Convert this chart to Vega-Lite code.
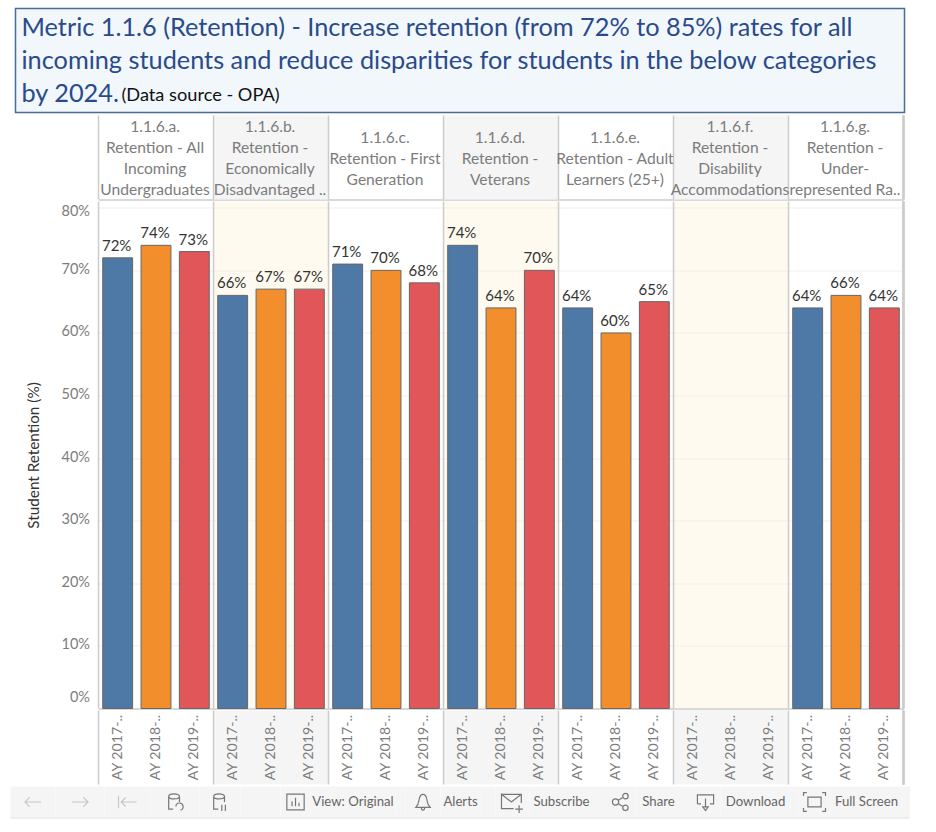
{"$schema":"https://vega.github.io/schema/vega-lite/v6.json","padding":{"left":10.5,"top":7.5,"right":0,"bottom":0},"background":"white","config":{"view":{"stroke":null},"font":"Lato","text":{"font":"Lato"},"point":{"opacity":1}},"datasets":{"bars":[{"group":"a","year":"2017","key":"a 2017","value":0.72,"axisLabel":"AY 2017-.."},{"group":"a","year":"2018","key":"a 2018","value":0.74,"axisLabel":"AY 2018-.."},{"group":"a","year":"2019","key":"a 2019","value":0.73,"axisLabel":"AY 2019-.."},{"group":"b","year":"2017","key":"b 2017","value":0.66,"axisLabel":"AY 2017-.."},{"group":"b","year":"2018","key":"b 2018","value":0.67,"axisLabel":"AY 2018-.."},{"group":"b","year":"2019","key":"b 2019","value":0.67,"axisLabel":"AY 2019-.."},{"group":"c","year":"2017","key":"c 2017","value":0.71,"axisLabel":"AY 2017-.."},{"group":"c","year":"2018","key":"c 2018","value":0.70,"axisLabel":"AY 2018-.."},{"group":"c","year":"2019","key":"c 2019","value":0.68,"axisLabel":"AY 2019-.."},{"group":"d","year":"2017","key":"d 2017","value":0.74,"axisLabel":"AY 2017-.."},{"group":"d","year":"2018","key":"d 2018","value":0.64,"axisLabel":"AY 2018-.."},{"group":"d","year":"2019","key":"d 2019","value":0.70,"axisLabel":"AY 2019-.."},{"group":"e","year":"2017","key":"e 2017","value":0.64,"axisLabel":"AY 2017-.."},{"group":"e","year":"2018","key":"e 2018","value":0.60,"axisLabel":"AY 2018-.."},{"group":"e","year":"2019","key":"e 2019","value":0.65,"axisLabel":"AY 2019-.."},{"group":"f","year":"2017","key":"f 2017","value":null,"axisLabel":"AY 2017-.."},{"group":"f","year":"2018","key":"f 2018","value":null,"axisLabel":"AY 2018-.."},{"group":"f","year":"2019","key":"f 2019","value":null,"axisLabel":"AY 2019-.."},{"group":"g","year":"2017","key":"g 2017","value":0.64,"axisLabel":"AY 2017-.."},{"group":"g","year":"2018","key":"g 2018","value":0.66,"axisLabel":"AY 2018-.."},{"group":"g","year":"2019","key":"g 2019","value":0.64,"axisLabel":"AY 2019-.."}],"panels":[{"first":"a 2017","mid":"a 2018","shade":false,"lines":4,"label":"1.1.6.a.\nRetention - All\nIncoming\nUndergraduates"},{"first":"b 2017","mid":"b 2018","shade":true,"lines":4,"label":"1.1.6.b.\nRetention -\nEconomically\nDisadvantaged .."},{"first":"c 2017","mid":"c 2018","shade":false,"lines":3,"label":"1.1.6.c.\nRetention - First\nGeneration"},{"first":"d 2017","mid":"d 2018","shade":true,"lines":3,"label":"1.1.6.d.\nRetention -\nVeterans"},{"first":"e 2017","mid":"e 2018","shade":false,"lines":3,"label":"1.1.6.e.\nRetention - Adult\nLearners (25+)"},{"first":"f 2017","mid":"f 2018","shade":true,"lines":4,"label":"1.1.6.f.\nRetention -\nDisability\nAccommodations"},{"first":"g 2017","mid":"g 2018","shade":false,"lines":4,"label":"1.1.6.g.\nRetention -\nUnder-\nrepresented Ra.."}]},"vconcat":[{"spacing":0,"bounds":"flush","data":{"values":[{}]},"hconcat":[{"width":4.5,"height":1,"mark":{"type":"rect","fill":"transparent"},"encoding":{}},{"width":889,"height":104,"title":{"text":["Metric 1.1.6 (Retention) - Increase retention (from 72% to 85%) rates for all","incoming students and reduce disparities for students in the below categories","by 2024."],"frame":"group","anchor":"start","orient":"top","offset":-100,"dx":6,"fontSize":25.3,"fontWeight":"normal","font":"Lato","color":"#2a4a8c","lineHeight":33},"layer":[{"mark":{"type":"rect","fill":"#f1f7fb","stroke":"#4a6a9e","strokeWidth":1.5},"encoding":{}},{"mark":{"type":"text","text":"(Data source - OPA)","align":"left","fontSize":18.2,"color":"#111111"},"encoding":{"x":{"datum":0.1192,"type":"quantitative","scale":{"domain":[0,1]},"axis":null},"y":{"datum":0.841,"type":"quantitative","scale":{"domain":[0,1],"reverse":true},"axis":null}}}]}]},{"spacing":0,"bounds":"flush","hconcat":[{"width":88,"height":1,"data":{"values":[{}]},"mark":{"type":"rect","fill":"transparent"},"encoding":{}},{"spacing":0,"vconcat":[{"width":805,"height":84,"layer":[{"data":{"name":"panels"},"transform":[{"filter":"datum.shade"}],"mark":{"type":"bar","fill":"#f5f5f5","width":{"band":3.846}},"encoding":{"x":{"field":"mid","type":"nominal","title":null,"axis":{"labels":false,"ticks":false,"title":null,"grid":false,"domainColor":"#cccccc","domainWidth":1.5},"scale":{"paddingInner":0.22,"paddingOuter":0.11,"domain":["a 2017","a 2018","a 2019","b 2017","b 2018","b 2019","c 2017","c 2018","c 2019","d 2017","d 2018","d 2019","e 2017","e 2018","e 2019","f 2017","f 2018","f 2019","g 2017","g 2018","g 2019"]}}}},{"data":{"name":"panels"},"mark":{"type":"rule","color":"#cccccc","strokeWidth":1.5,"xOffset":-4.2},"encoding":{"x":{"field":"first","type":"nominal","bandPosition":0}}},{"data":{"name":"panels"},"mark":{"type":"rule","color":"#cccccc","strokeWidth":1.5,"xOffset":4.2},"encoding":{"x":{"datum":"g 2019","type":"nominal","bandPosition":1}}},{"data":{"name":"panels"},"mark":{"type":"text","lineBreak":"\n","lineHeight":21,"fontSize":15.6,"color":"#7c7c7c","dx":-1},"encoding":{"x":{"field":"mid","type":"nominal"},"y":{"field":"lines","type":"ordinal","axis":null,"scale":{"domain":[3,4],"range":[22,11],"padding":0}},"text":{"field":"label"}}}]},{"width":805,"height":507,"layer":[{"data":{"name":"panels"},"transform":[{"filter":"datum.shade"}],"mark":{"type":"bar","fill":"#fdf1d0","opacity":0.35,"width":{"band":3.846}},"encoding":{"x":{"field":"mid","type":"nominal","title":null,"axis":{"labels":false,"ticks":false,"title":null,"grid":false,"domainColor":"#cccccc","domainWidth":1.5},"scale":{"paddingInner":0.22,"paddingOuter":0.11,"domain":["a 2017","a 2018","a 2019","b 2017","b 2018","b 2019","c 2017","c 2018","c 2019","d 2017","d 2018","d 2019","e 2017","e 2018","e 2019","f 2017","f 2018","f 2019","g 2017","g 2018","g 2019"]}}}},{"data":{"name":"panels"},"mark":{"type":"rule","color":"#cccccc","strokeWidth":1.5,"xOffset":-4.2},"encoding":{"x":{"field":"first","type":"nominal","bandPosition":0}}},{"data":{"name":"panels"},"mark":{"type":"rule","color":"#cccccc","strokeWidth":1.5,"xOffset":4.2},"encoding":{"x":{"datum":"g 2019","type":"nominal","bandPosition":1}}},{"data":{"name":"bars"},"transform":[{"filter":"datum.value != null"}],"mark":{"type":"bar","stroke":"#666666","strokeWidth":1},"encoding":{"x":{"field":"key","type":"nominal"},"y":{"field":"value","type":"quantitative","scale":{"domain":[0,0.81],"nice":false},"axis":{"title":"Student Retention (%)","values":[0,0.1,0.2,0.3,0.4,0.5,0.6,0.7,0.8],"format":".0%","labelOffset":{"expr":"datum.value==0?-11:datum.value==0.8?4:-1"},"labelPadding":9,"ticks":false,"domain":false,"gridColor":"#f0f0f0","labelColor":"#7c7c7c","labelFontSize":14.5,"minExtent":84,"titleX":-57,"titleFontSize":15.3,"titleFontWeight":"normal","titleColor":"#333333"}},"color":{"field":"year","type":"nominal","legend":null,"scale":{"domain":["2017","2018","2019"],"range":["#4e79a7","#f28e2b","#e15759"]}}}},{"data":{"name":"bars"},"transform":[{"filter":"datum.value != null"}],"mark":{"type":"text","baseline":"bottom","dy":-4,"dx":-1,"fontSize":15,"color":"#333333"},"encoding":{"x":{"field":"key","type":"nominal"},"y":{"field":"value","type":"quantitative"},"text":{"field":"value","type":"quantitative","format":".0%"}}}]},{"width":805,"height":74,"layer":[{"data":{"name":"panels"},"transform":[{"filter":"datum.shade"}],"mark":{"type":"bar","fill":"#f5f5f5","width":{"band":3.846}},"encoding":{"x":{"field":"mid","type":"nominal","title":null,"axis":null,"scale":{"paddingInner":0.22,"paddingOuter":0.11,"domain":["a 2017","a 2018","a 2019","b 2017","b 2018","b 2019","c 2017","c 2018","c 2019","d 2017","d 2018","d 2019","e 2017","e 2018","e 2019","f 2017","f 2018","f 2019","g 2017","g 2018","g 2019"]}}}},{"data":{"name":"panels"},"mark":{"type":"rule","color":"#cccccc","strokeWidth":1.5,"xOffset":-4.2},"encoding":{"x":{"field":"first","type":"nominal","bandPosition":0}}},{"data":{"name":"panels"},"mark":{"type":"rule","color":"#cccccc","strokeWidth":1.5,"xOffset":4.2},"encoding":{"x":{"datum":"g 2019","type":"nominal","bandPosition":1}}},{"data":{"name":"bars"},"mark":{"type":"text","angle":270,"fontSize":14.2,"color":"#7c7c7c"},"encoding":{"x":{"field":"key","type":"nominal"},"text":{"field":"axisLabel"}}}]}]}]},{"spacing":0,"data":{"values":[{}]},"vconcat":[{"spacing":0,"bounds":"flush","hconcat":[{"width":45,"height":31,"view":{"fill":"#f5f5f5"},"mark":{"type":"point","filled":false,"stroke":"#c8c8c8","strokeWidth":1.2,"size":256,"shape":"M1,0 L-1,0 M-0.4,-0.6 L-1,0 L-0.4,0.6"},"encoding":{}},{"width":49,"height":31,"view":{"fill":"#f5f5f5"},"mark":{"type":"point","filled":false,"stroke":"#c8c8c8","strokeWidth":1.2,"size":256,"shape":"M-1,0 L1,0 M0.4,-0.6 L1,0 L0.4,0.6"},"encoding":{}},{"width":46,"height":31,"view":{"fill":"#f5f5f5"},"mark":{"type":"point","filled":false,"stroke":"#c8c8c8","strokeWidth":1.2,"size":324,"shape":"M-1,-0.7 L-1,0.7 M1,0 L-0.7,0 M-0.2,-0.5 L-0.7,0 L-0.2,0.5"},"encoding":{}},{"width":49,"height":31,"view":{"fill":"#f5f5f5"},"mark":{"type":"point","filled":false,"stroke":"#777777","strokeWidth":1.2,"size":324,"shape":"M-0.7,-0.6 C-0.7,-1 0.5,-1 0.5,-0.6 C0.5,-0.25 -0.7,-0.25 -0.7,-0.6 L-0.7,0.8 L-0.2,0.8 M0.5,-0.6 L0.5,0 M0.1,0.5 A0.4,0.4 0 1 1 0.6,0.9"},"encoding":{}},{"width":41,"height":31,"view":{"fill":"#f5f5f5"},"mark":{"type":"point","filled":false,"stroke":"#777777","strokeWidth":1.2,"size":324,"shape":"M-0.7,-0.6 C-0.7,-1 0.5,-1 0.5,-0.6 C0.5,-0.25 -0.7,-0.25 -0.7,-0.6 L-0.7,0.8 L-0.2,0.8 M0.5,-0.6 L0.5,0 M0.2,0.3 L0.2,1 M0.6,0.3 L0.6,1"},"encoding":{}},{"width":39.5,"height":31,"mark":{"type":"rect","fill":"#f5f5f5"},"encoding":{}},{"width":30,"height":31,"view":{"fill":"#f5f5f5"},"mark":{"type":"point","filled":false,"stroke":"#777777","strokeWidth":1.2,"size":300,"shape":"M-1,-0.9 H1 V0.9 H-1 Z M-0.4,0.5 V-0.1 M0,0.5 V-0.5 M0.4,0.5 V0.1"},"encoding":{}},{"width":85,"height":31,"view":{"fill":"#f5f5f5"},"mark":{"type":"text","text":"View: Original","fontSize":13.2,"color":"#666666"},"encoding":{}},{"width":10,"height":31,"mark":{"type":"rect","fill":"#f5f5f5"},"encoding":{}},{"width":35,"height":31,"view":{"fill":"#f5f5f5"},"mark":{"type":"point","filled":false,"stroke":"#777777","strokeWidth":1.2,"size":324,"shape":"M-0.8,0.6 C-0.4,0.2 -0.5,-0.1 -0.4,-0.4 C-0.3,-1 0.3,-1 0.4,-0.4 C0.5,-0.1 0.4,0.2 0.8,0.6 Z M-0.2,0.6 C-0.15,1 0.15,1 0.2,0.6"},"encoding":{}},{"width":40,"height":31,"view":{"fill":"#f5f5f5"},"mark":{"type":"text","text":"Alerts","fontSize":13.2,"color":"#666666"},"encoding":{}},{"width":15,"height":31,"mark":{"type":"rect","fill":"#f5f5f5"},"encoding":{}},{"width":34,"height":31,"view":{"fill":"#f5f5f5"},"mark":{"type":"point","filled":false,"stroke":"#777777","strokeWidth":1.2,"size":484,"shape":"M-1,-0.7 H0.8 V0.1 M0.1,0.6 H-1 V-0.7 L-0.1,0 L0.8,-0.7 M0.6,0.3 V1 M0.25,0.65 H0.95"},"encoding":{}},{"width":64,"height":31,"view":{"fill":"#f5f5f5"},"mark":{"type":"text","text":"Subscribe","fontSize":13.2,"color":"#666666"},"encoding":{}},{"width":12,"height":31,"mark":{"type":"rect","fill":"#f5f5f5"},"encoding":{}},{"width":30,"height":31,"view":{"fill":"#f5f5f5"},"mark":{"type":"point","filled":false,"stroke":"#777777","strokeWidth":1.2,"size":324,"shape":"M-0.9,0 a0.35,0.35 0 1,0 0.7,0 a0.35,0.35 0 1,0 -0.7,0 M0.25,-0.65 a0.3,0.3 0 1,0 0.6,0 a0.3,0.3 0 1,0 -0.6,0 M0.25,0.65 a0.3,0.3 0 1,0 0.6,0 a0.3,0.3 0 1,0 -0.6,0 M-0.25,-0.2 L0.28,-0.5 M-0.25,0.2 L0.28,0.5"},"encoding":{}},{"width":46,"height":31,"view":{"fill":"#f5f5f5"},"mark":{"type":"text","text":"Share","fontSize":13.2,"color":"#666666"},"encoding":{}},{"width":9,"height":31,"mark":{"type":"rect","fill":"#f5f5f5"},"encoding":{}},{"width":30,"height":31,"view":{"fill":"#f5f5f5"},"mark":{"type":"point","filled":false,"stroke":"#777777","strokeWidth":1.2,"size":324,"shape":"M-0.9,0.2 V-0.8 H0.9 V0.2 H0.5 M-0.9,0.2 H-0.5 M0,-0.4 V0.6 M-0.3,0.55 L0,0.95 L0.3,0.55 Z"},"encoding":{}},{"width":70,"height":31,"view":{"fill":"#f5f5f5"},"mark":{"type":"text","text":"Download","fontSize":13.2,"color":"#666666"},"encoding":{}},{"width":8,"height":31,"mark":{"type":"rect","fill":"#f5f5f5"},"encoding":{}},{"width":32,"height":31,"view":{"fill":"#f5f5f5"},"mark":{"type":"point","filled":false,"stroke":"#777777","strokeWidth":1.2,"size":484,"shape":"M-0.6,-0.45 H0.6 V0.45 H-0.6 Z M-1,-0.55 V-0.85 H-0.7 M0.7,-0.85 H1 V-0.55 M1,0.55 V0.85 H0.7 M-0.7,0.85 H-1 V0.55"},"encoding":{}},{"width":72,"height":31,"view":{"fill":"#f5f5f5"},"mark":{"type":"text","text":"Full Screen","fontSize":13.2,"color":"#666666"},"encoding":{}},{"width":7.5,"height":31,"mark":{"type":"rect","fill":"#f5f5f5"},"encoding":{}}]},{"width":899,"height":1,"mark":{"type":"rect","fill":"#dddddd"},"encoding":{}}]}],"spacing":1,"align":"none"}
